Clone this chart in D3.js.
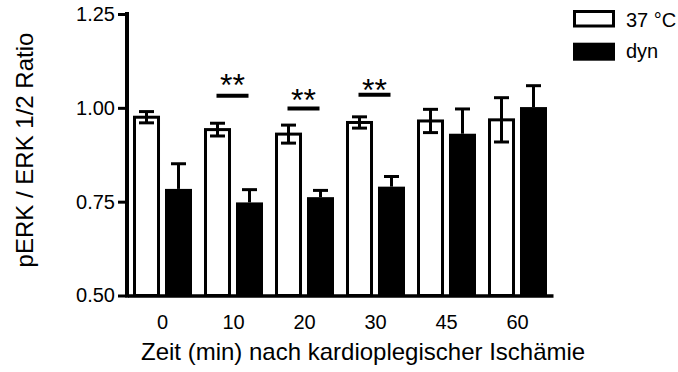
<!DOCTYPE html>
<html>
<head>
<meta charset="utf-8">
<script src="https://cdn.jsdelivr.net/npm/d3@7"></script>
<style>
  body { margin: 0; background: #fff; }
  svg { display: block; font-family: "Liberation Sans", Arial, sans-serif; }
</style>
</head>
<body>
<div id="chart"></div>
<script>
// data
const groups = ["0", "10", "20", "30", "45", "60"];
const series = ["37 °C", "dyn"];
const ctrlMean = [0.975, 0.942, 0.930, 0.961, 0.965, 0.968];
const ctrlErr  = [0.015, 0.017, 0.024, 0.015, 0.031, 0.059];
const dynMean  = [0.784, 0.748, 0.762, 0.790, 0.931, 1.002];
const dynErr   = [0.067, 0.034, 0.018, 0.027, 0.066, 0.057];
const yTicks   = [0.50, 0.75, 1.00, 1.25];
// significance markers: group, line level, star level
const sigGroups = ["10", "20", "30"];
const sigLine   = [1.032, 0.998, 1.035];
const sigStar   = [1.082, 1.040, 1.068];

(function () {
    const W = 678, H = 372;
    const left = 127, right = 553, top = 14, bottom = 295.5;

    const svg = d3.select("#chart").append("svg")
        .attr("width", W)
        .attr("height", H);

    // scales
    const x = d3.scaleBand().domain(groups).range([left, right]);
    const xs = d3.scaleBand().domain(series).range([6, x.bandwidth() - 6]).paddingInner(0.156);
    const y = d3.scaleLinear().domain([0.5, 1.25]).range([bottom, top]);

    const data = groups.map((g, i) => ({
        g: g,
        vals: [
            { s: series[0], m: ctrlMean[i], e: ctrlErr[i] },
            { s: series[1], m: dynMean[i], e: dynErr[i] }
        ]
    }));

    const capW = 15;

    const grp = svg.selectAll(".grp")
        .data(data)
        .enter().append("g")
        .attr("class", "grp")
        .attr("transform", d => "translate(" + x(d.g) + ",0)");

    grp.each(function (d) {
        const g = d3.select(this);
        const c = d.vals[0], k = d.vals[1];
        const bw = xs.bandwidth();

        // 37 °C bar, error bar both ways
        g.append("rect")
            .attr("x", xs(c.s) + 1.5)
            .attr("y", y(c.m))
            .attr("width", bw - 3)
            .attr("height", bottom - y(c.m))
            .attr("fill", "#fff")
            .attr("stroke", "#000")
            .attr("stroke-width", 3);
        const cx = xs(c.s) + bw / 2;
        g.append("line")
            .attr("x1", cx).attr("x2", cx)
            .attr("y1", y(c.m - c.e)).attr("y2", y(c.m + c.e))
            .attr("stroke", "#000").attr("stroke-width", 3);
        [c.m - c.e, c.m + c.e].forEach(v => {
            g.append("line")
                .attr("x1", cx - capW / 2).attr("x2", cx + capW / 2)
                .attr("y1", y(v)).attr("y2", y(v))
                .attr("stroke", "#000").attr("stroke-width", 3);
        });

        // dyn bar, error bar up only
        g.append("rect")
            .attr("x", xs(k.s))
            .attr("y", y(k.m))
            .attr("width", bw)
            .attr("height", bottom - y(k.m))
            .attr("fill", "#000");
        const kx = xs(k.s) + bw / 2;
        g.append("line")
            .attr("x1", kx).attr("x2", kx)
            .attr("y1", y(k.m)).attr("y2", y(k.m + k.e))
            .attr("stroke", "#000").attr("stroke-width", 3);
        g.append("line")
            .attr("x1", kx - capW / 2).attr("x2", kx + capW / 2)
            .attr("y1", y(k.m + k.e)).attr("y2", y(k.m + k.e))
            .attr("stroke", "#000").attr("stroke-width", 3);
    });

    // significance lines + stars
    sigGroups.forEach((g, i) => {
        const cx = x(g) + x.bandwidth() / 2 - 1;
        svg.append("line")
            .attr("x1", cx - 16).attr("x2", cx + 16)
            .attr("y1", y(sigLine[i])).attr("y2", y(sigLine[i]))
            .attr("stroke", "#000").attr("stroke-width", 4);
        svg.append("text")
            .attr("x", cx)
            .attr("y", y(sigStar[i]) + 0.58 * 32)
            .attr("text-anchor", "middle")
            .attr("font-size", "32px")
            .text("**");
    });

    // axes
    const yAxis = d3.axisLeft(y).tickValues(yTicks).tickFormat(d3.format(".2f"))
        .tickSize(9).tickSizeOuter(0).tickPadding(3);
    const ya = svg.append("g")
        .attr("transform", "translate(" + left + ",0)")
        .call(yAxis);
    ya.select(".domain").attr("stroke-width", 4).attr("d", "M0," + (top - 2) + "V" + (bottom + 2));
    ya.selectAll(".tick line").attr("stroke-width", 3);
    ya.selectAll(".tick text").attr("font-size", "20px").attr("fill", "#000");

    const xAxis = d3.axisBottom(x).tickSize(0).tickSizeOuter(0).tickPadding(19);
    const xa = svg.append("g")
        .attr("transform", "translate(0," + bottom + ")")
        .call(xAxis);
    xa.select(".domain").attr("stroke-width", 3.5);
    xa.selectAll(".tick text").attr("font-size", "20px").attr("fill", "#000");
    ya.raise();

    // axis titles
    svg.append("text")
        .attr("x", 141)
        .attr("y", 360)
        .attr("font-size", "24px")
        .text("Zeit (min) nach kardioplegischer Ischämie");

    svg.append("text")
        .attr("transform", "translate(33,150) rotate(-90)")
        .attr("text-anchor", "middle")
        .attr("font-size", "24px")
        .text("pERK / ERK 1/2 Ratio");

    // legend
    const leg = svg.append("g").attr("transform", "translate(573,10)");
    series.forEach((s, i) => {
        const r = leg.append("rect");
        if (i === 0) {
            r.attr("x", 1.5).attr("y", 1.5).attr("width", 39).attr("height", 14.5)
                .attr("fill", "#fff").attr("stroke", "#000").attr("stroke-width", 3);
        } else {
            r.attr("x", 0).attr("y", 32.7).attr("width", 42).attr("height", 18).attr("fill", "#000");
        }
        leg.append("text")
            .attr("x", 53)
            .attr("y", i === 0 ? 16.5 : 47.5)
            .attr("font-size", "20px")
            .text(s);
    });
})();
</script>
</body>
</html>
